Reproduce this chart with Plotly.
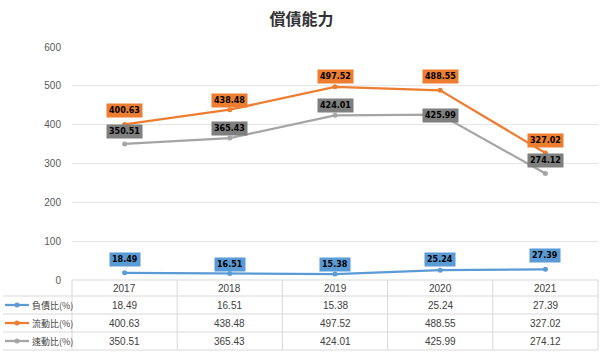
import plotly.graph_objects as go

# ---------------- data ----------------
years = ['2017', '2018', '2019', '2020', '2021']
series_names = ['負債比(%)', '流動比(%)', '速動比(%)']
debt_ratio = [18.49, 16.51, 15.38, 25.24, 27.39]
current_ratio = [400.63, 438.48, 497.52, 488.55, 327.02]
quick_ratio = [350.51, 365.43, 424.01, 425.99, 274.12]
y_ticks = [0, 100, 200, 300, 400, 500, 600]
title_text = '償債能力'

# ---------------- styles ----------------
W, H = 603, 354
ML, MR, MT, MB = 72, 5, 47, 74
PLOT_W = W - ML - MR
PLOT_H = H - MT - MB
line_colors = ['#5B9BD5', '#ED7D31', '#A5A5A5']
box_colors = ['#5B9BD5', '#ED7D31', '#7F7F7F']
# pixel gap between each data label box and its point
label_gaps = [[6, 2, 2, 3, 6], [6, 2, 3, 6, 5], [5, 2, 2, -8, 6]]
grid_color = '#E6E6E6'
table_color = '#D9D9D9'
text_color = '#404040'
row_px = [280, 296, 314, 332, 350]  # table row borders (pixels from top)


def py(px_y):
    """pixel y (from top of page) -> paper y"""
    return (H - MB - px_y) / PLOT_H


def px(px_x):
    """pixel x -> paper x"""
    return (px_x - ML) / PLOT_W


all_series = [debt_ratio, current_ratio, quick_ratio]
n = len(years)
cat_idx = list(range(n))  # category positions on the x axis

fig = go.Figure()
for name, vals, col in zip(series_names, all_series, line_colors):
    fig.add_trace(go.Scatter(
        x=years, y=vals, name=name, mode='lines+markers',
        line=dict(color=col, width=2.25),
        marker=dict(color=col, size=5),
        cliponaxis=False, showlegend=False, hoverinfo='skip'))

annotations = []
shapes = []

# data labels
for vals, bc, gaps in zip(all_series, box_colors, label_gaps):
    for xi, v, g in zip(cat_idx, vals, gaps):
        annotations.append(dict(
            x=xi, y=v, xref='x', yref='y', text=f'{v:.2f}', showarrow=False,
            xanchor='center', yanchor='bottom', yshift=g,
            bgcolor=bc, borderpad=2,
            font=dict(family='DejaVu Sans', size=8, color='#000000', weight='bold')))

# ---------------- data table ----------------
shapes.append(dict(type='line', xref='paper', yref='paper', x0=0, x1=1,
                   y0=py(row_px[0]), y1=py(row_px[0]),
                   line=dict(color=table_color, width=1)))
for r in row_px[1:]:
    shapes.append(dict(type='line', xref='paper', yref='paper', x0=px(3), x1=1,
                       y0=py(r), y1=py(r), line=dict(color=table_color, width=1)))
for i in range(n + 1):
    xv = i / n
    shapes.append(dict(type='line', xref='paper', yref='paper', x0=xv, x1=xv,
                       y0=py(row_px[0]), y1=py(row_px[-1]),
                       line=dict(color=table_color, width=1)))

table_font = dict(family='Liberation Sans', size=10, color=text_color)
hdr_y = py((row_px[0] + row_px[1]) / 2)
for xi, yr in zip(cat_idx, years):
    annotations.append(dict(x=xi, y=hdr_y, xref='x', yref='paper', text=yr,
                            showarrow=False, xanchor='center', yanchor='middle',
                            font=table_font))
for ri, (name, vals, col) in enumerate(zip(series_names, all_series, line_colors)):
    cy = py((row_px[ri + 1] + row_px[ri + 2]) / 2)
    for xi, v in zip(cat_idx, vals):
        annotations.append(dict(x=xi, y=cy, xref='x', yref='paper', text=f'{v:.2f}',
                                showarrow=False, xanchor='center', yanchor='middle',
                                font=table_font))
    shapes.append(dict(type='line', xref='paper', yref='paper', x0=px(5), x1=px(29),
                       y0=cy, y1=cy, line=dict(color=col, width=2.25)))
    shapes.append(dict(type='circle', xref='paper', yref='paper',
                       xsizemode='pixel', ysizemode='pixel',
                       xanchor=px(17), yanchor=cy, x0=-2.5, x1=2.5, y0=-2.5, y1=2.5,
                       fillcolor=col, line=dict(color=col, width=0)))
    annotations.append(dict(x=px(30), y=cy, xref='paper', yref='paper', text=name,
                            showarrow=False, xanchor='left', yanchor='middle',
                            font=dict(family='Noto Sans CJK TC', size=9, color=text_color)))

fig.update_layout(
    width=W, height=H,
    margin=dict(l=ML, r=MR, t=MT, b=MB),
    paper_bgcolor='white', plot_bgcolor='white',
    title=dict(text=title_text, x=0.5, xref='container', xanchor='center',
               y=1 - 19 / H, yref='container', yanchor='middle',
               font=dict(family='Noto Sans CJK TC', size=16, color='#333333', weight='bold')),
    xaxis=dict(type='category', range=[-0.5, n - 0.5], showticklabels=False,
               showgrid=False, zeroline=False, showline=False, ticks=''),
    yaxis=dict(range=[0, 600], tickvals=y_ticks, showgrid=True, gridcolor=grid_color,
               gridwidth=1, zeroline=False, showline=False, ticks='', ticklabelstandoff=10,
               tickfont=dict(family='Liberation Sans', size=10, color='#595959')),
    annotations=annotations, shapes=shapes, showlegend=False,
)

fig.write_html('out.html')
